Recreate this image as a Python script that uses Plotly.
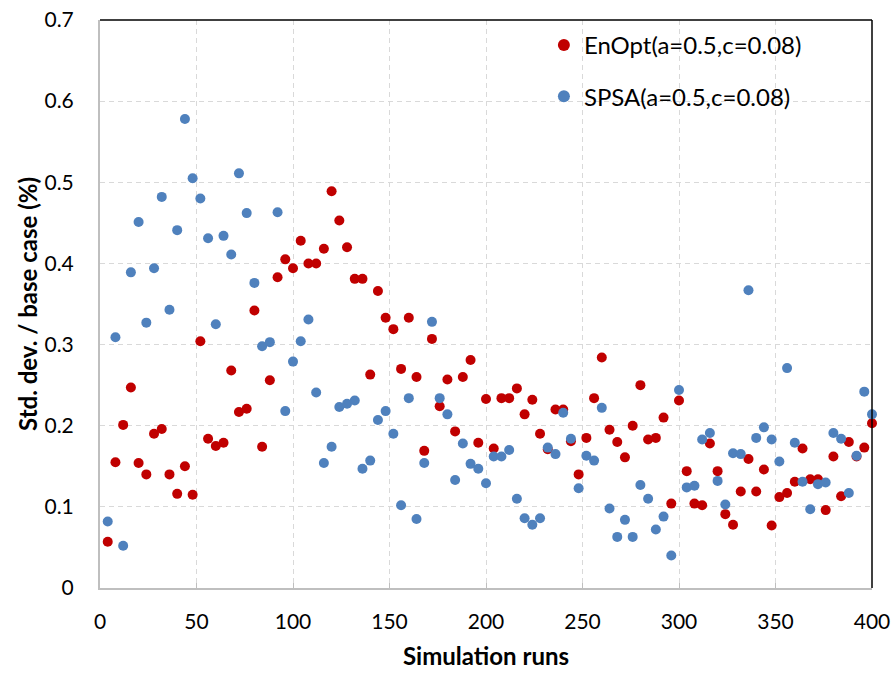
import plotly.graph_objects as go

# Simulation run index (every 4th run)
runs = list(range(4, 401, 4))

# Std. dev. relative to base case (%) for each optimizer
enopt_std = [
    0.057, 0.155, 0.201, 0.247, 0.154, 0.140, 0.190, 0.196, 0.140, 0.116,
    0.150, 0.115, 0.304, 0.184, 0.175, 0.179, 0.268, 0.217, 0.221, 0.342,
    0.174, 0.256, 0.383, 0.405, 0.394, 0.428, 0.400, 0.400, 0.418, 0.489,
    0.453, 0.420, 0.381, 0.381, 0.263, 0.366, 0.333, 0.319, 0.270, 0.333,
    0.260, 0.169, 0.307, 0.224, 0.257, 0.193, 0.260, 0.281, 0.179, 0.233,
    0.172, 0.234, 0.234, 0.246, 0.214, 0.232, 0.190, 0.171, 0.220, 0.220,
    0.181, 0.140, 0.185, 0.234, 0.284, 0.195, 0.180, 0.161, 0.200, 0.250,
    0.183, 0.185, 0.210, 0.104, 0.231, 0.144, 0.104, 0.102, 0.178, 0.144,
    0.091, 0.078, 0.119, 0.159, 0.119, 0.146, 0.077, 0.112, 0.117, 0.131,
    0.172, 0.134, 0.134, 0.096, 0.162, 0.113, 0.180, 0.162, 0.173, 0.203,
]
spsa_std = [
    0.082, 0.309, 0.052, 0.389, 0.451, 0.327, 0.394, 0.482, 0.343, 0.441,
    0.578, 0.505, 0.480, 0.431, 0.325, 0.434, 0.411, 0.511, 0.462, 0.376,
    0.298, 0.303, 0.463, 0.218, 0.279, 0.304, 0.331, 0.241, 0.154, 0.174,
    0.223, 0.227, 0.231, 0.147, 0.157, 0.207, 0.218, 0.190, 0.102, 0.234,
    0.085, 0.154, 0.328, 0.234, 0.214, 0.133, 0.178, 0.153, 0.147, 0.129,
    0.162, 0.162, 0.170, 0.110, 0.086, 0.078, 0.086, 0.173, 0.165, 0.216,
    0.184, 0.123, 0.163, 0.157, 0.222, 0.098, 0.063, 0.084, 0.063, 0.127,
    0.110, 0.072, 0.088, 0.040, 0.244, 0.124, 0.126, 0.183, 0.191, 0.132,
    0.103, 0.166, 0.165, 0.367, 0.185, 0.198, 0.183, 0.156, 0.271, 0.179,
    0.131, 0.097, 0.128, 0.130, 0.191, 0.184, 0.117, 0.163, 0.242, 0.214,
]

series_names = ["EnOpt(a=0.5,c=0.08)", "SPSA(a=0.5,c=0.08)"]
series_colors = ["#C00000", "#4F81BD"]

x_ticks = list(range(0, 401, 50))
y_ticks = [0, 0.1, 0.2, 0.3, 0.4, 0.5, 0.6, 0.7]
y_tick_text = ["0", "0.1", "0.2", "0.3", "0.4", "0.5", "0.6", "0.7"]

FONT = "Lato, 'Open Sans', sans-serif"

fig = go.Figure()
for i, (name, color, values) in enumerate(zip(series_names, series_colors, [enopt_std, spsa_std])):
    fig.add_trace(go.Scatter(
        x=runs, y=values, mode="markers", name=name,
        legendgroup=f"g{i}",
        marker=dict(color=color, size=10, line=dict(width=0)),
        cliponaxis=False,
    ))

grid = dict(showgrid=True, gridcolor="#D9D9D9", gridwidth=1, griddash="5px,4px")

fig.update_layout(
    width=894, height=673,
    margin=dict(l=100, r=22, t=20, b=85),
    paper_bgcolor="white", plot_bgcolor="white",
    font=dict(family=FONT, color="#000000", size=21),
    showlegend=True,
    legend=dict(
        x=0.575, y=0.995, xanchor="left", yanchor="top",
        font=dict(family=FONT, size=24, color="#000000"),
        bgcolor="rgba(0,0,0,0)", borderwidth=0,
        tracegroupgap=17, itemsizing="constant",
    ),
    xaxis=dict(
        range=[0, 400], tickvals=x_ticks, **grid,
        zeroline=False, showline=True, linecolor="#BFBFBF", linewidth=2,
        ticks="inside", ticklen=5, tickcolor="#BFBFBF",
        ticklabelstandoff=14, automargin=False,
        tickfont=dict(family=FONT, size=21),
        title=dict(text="<b>Simulation runs</b>", font=dict(family=FONT, size=24), standoff=16),
    ),
    yaxis=dict(
        range=[0, 0.7], tickvals=y_ticks, ticktext=y_tick_text, **grid,
        zeroline=False, showline=True, linecolor="#BFBFBF", linewidth=2,
        ticks="", ticklabelstandoff=20, automargin=False,
        tickfont=dict(family=FONT, size=21),
        title=dict(text="<b>Std. dev. / base case (%)</b>", font=dict(family=FONT, size=24), standoff=0),
    ),
)

# Plot-area border on the top and right sides
fig.add_shape(type="line", xref="paper", yref="paper", x0=0, x1=1, y0=1, y1=1,
              line=dict(color="#000000", width=1.5))
fig.add_shape(type="line", xref="paper", yref="paper", x0=1, x1=1, y0=0, y1=1,
              line=dict(color="#000000", width=1.5))

fig.write_html("out.html")
